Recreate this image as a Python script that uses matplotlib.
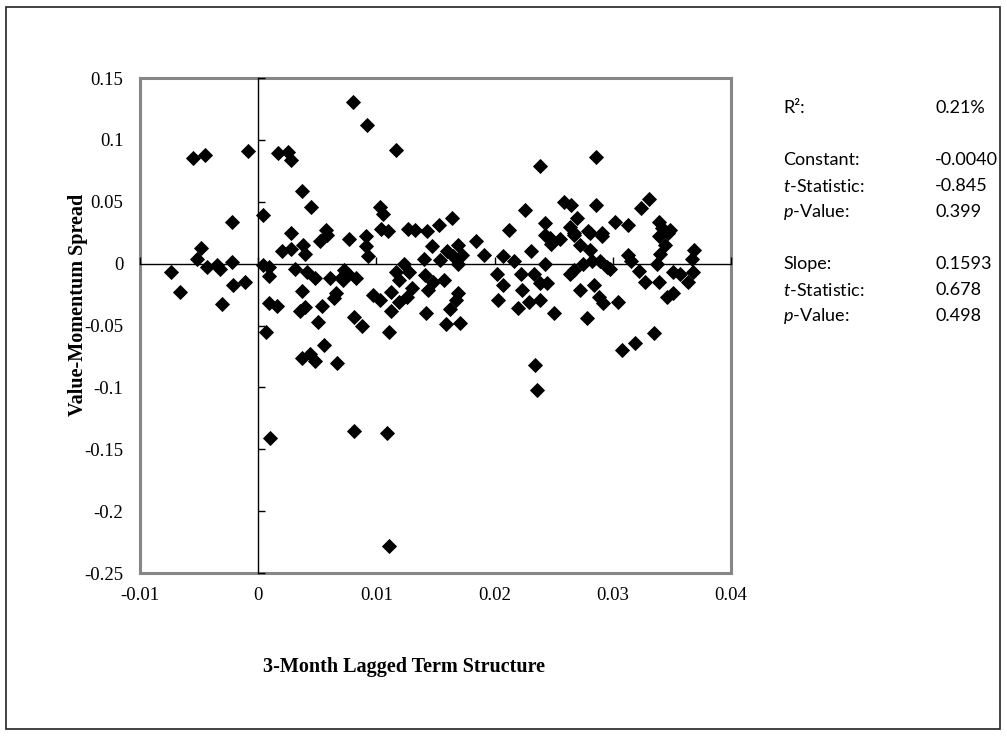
import matplotlib
matplotlib.use("Agg")
import matplotlib.pyplot as plt
from matplotlib.patches import Rectangle

# ---- data ----
term_structure = [
    -0.0055, -0.0045, -0.0009, 0.0017, 0.0025, 0.0028, 0.0037, 0.0045, -0.0022, 0.0004,
    0.0028, 0.0057, 0.0080, 0.0092, 0.0117, 0.0238, 0.0103, 0.0106, 0.0164, 0.0153,
    0.0226, 0.0243, 0.0212, 0.0104, 0.0110, 0.0127, 0.0133, 0.0143, 0.0077, 0.0091,
    0.0184, 0.0259, 0.0286, 0.0265, 0.0286, 0.0270, 0.0324, 0.0331, 0.0302, 0.0313,
    0.0339, 0.0342, 0.0348, 0.0264, 0.0267, 0.0281, 0.0291, 0.0247, 0.0255, -0.0048,
    -0.0052, -0.0043, -0.0035, -0.0032, -0.0022, -0.0074, -0.0066, -0.0031, -0.0021, -0.0011,
    0.0004, 0.0009, 0.0009, 0.0009, 0.0016, 0.0007, 0.0020, 0.0028, 0.0038, 0.0040,
    0.0052, 0.0058, 0.0031, 0.0041, 0.0048, 0.0061, 0.0071, 0.0075, 0.0037, 0.0054,
    0.0064, 0.0066, 0.0035, 0.0040, 0.0051, 0.0056, 0.0037, 0.0044, 0.0048, 0.0067,
    0.0081, 0.0091, 0.0093, 0.0147, 0.0169, 0.0160, 0.0154, 0.0165, 0.0172, 0.0169,
    0.0191, 0.0140, 0.0073, 0.0076, 0.0083, 0.0072, 0.0123, 0.0128, 0.0117, 0.0119,
    0.0141, 0.0148, 0.0157, 0.0144, 0.0097, 0.0103, 0.0112, 0.0119, 0.0126, 0.0130,
    0.0169, 0.0167, 0.0112, 0.0088, 0.0111, 0.0142, 0.0162, 0.0159, 0.0171, 0.0202,
    0.0207, 0.0203, 0.0207, 0.0216, 0.0231, 0.0243, 0.0222, 0.0233, 0.0223, 0.0238,
    0.0244, 0.0220, 0.0229, 0.0238, 0.0250, 0.0243, 0.0248, 0.0234, 0.0236, 0.0010,
    0.0081, 0.0109, 0.0111, 0.0267, 0.0272, 0.0281, 0.0291, 0.0279, 0.0267, 0.0275,
    0.0282, 0.0289, 0.0295, 0.0298, 0.0264, 0.0272, 0.0284, 0.0288, 0.0292, 0.0304,
    0.0278, 0.0313, 0.0315, 0.0322, 0.0327, 0.0337, 0.0339, 0.0340, 0.0344, 0.0347,
    0.0339, 0.0346, 0.0351, 0.0351, 0.0357, 0.0364, 0.0368, 0.0367, 0.0369, 0.0308,
    0.0319, 0.0335,
]
spread = [
    0.085, 0.088, 0.091, 0.089, 0.090, 0.084, 0.059, 0.046, 0.034, 0.039,
    0.025, 0.027, 0.131, 0.112, 0.092, 0.079, 0.046, 0.040, 0.037, 0.031,
    0.043, 0.033, 0.027, 0.028, 0.026, 0.028, 0.027, 0.026, 0.020, 0.022,
    0.018, 0.050, 0.086, 0.047, 0.047, 0.037, 0.045, 0.052, 0.034, 0.031,
    0.034, 0.029, 0.027, 0.030, 0.025, 0.025, 0.025, 0.021, 0.020, 0.013,
    0.004, -0.003, -0.001, -0.004, 0.001, -0.007, -0.023, -0.033, -0.017, -0.015,
    -0.001, -0.003, -0.010, -0.032, -0.034, -0.055, 0.010, 0.012, 0.015, 0.008,
    0.018, 0.023, -0.004, -0.007, -0.012, -0.012, -0.011, -0.008, -0.022, -0.034,
    -0.028, -0.024, -0.038, -0.035, -0.047, -0.066, -0.076, -0.073, -0.079, -0.080,
    -0.043, 0.014, 0.006, 0.014, 0.015, 0.010, 0.003, 0.006, 0.007, 0.000,
    0.007, 0.004, -0.005, -0.008, -0.012, -0.013, 0.000, -0.007, -0.007, -0.013,
    -0.009, -0.015, -0.013, -0.021, -0.025, -0.029, -0.023, -0.031, -0.027, -0.020,
    -0.024, -0.029, -0.038, -0.050, -0.055, -0.040, -0.037, -0.049, -0.048, -0.008,
    -0.017, -0.029, 0.006, 0.002, 0.010, 0.000, -0.008, -0.008, -0.021, -0.016,
    -0.016, -0.036, -0.031, -0.029, -0.040, 0.023, 0.016, -0.082, -0.102, -0.141,
    -0.135, -0.137, -0.228, 0.023, 0.015, 0.011, 0.022, 0.026, -0.005, 0.000,
    0.002, 0.002, -0.003, -0.004, -0.008, -0.021, -0.017, -0.027, -0.032, -0.031,
    -0.044, 0.007, 0.002, -0.006, -0.015, 0.000, 0.022, 0.008, 0.015, 0.025,
    -0.015, -0.027, -0.024, -0.007, -0.008, -0.015, -0.007, 0.004, 0.011, -0.070,
    -0.064, -0.056,
]
x_ticks = [-0.01, 0, 0.01, 0.02, 0.03, 0.04]
x_tick_labels = ["-0.01", "0", "0.01", "0.02", "0.03", "0.04"]
y_ticks = [-0.25, -0.2, -0.15, -0.1, -0.05, 0, 0.05, 0.1, 0.15]
y_tick_labels = ["-0.25", "-0.2", "-0.15", "-0.1", "-0.05", "0", "0.05", "0.1", "0.15"]
stat_labels = ["R²:", "Constant:", "$t$-Statistic:", "$p$-Value:", "Slope:", "$t$-Statistic:", "$p$-Value:"]
stat_values = ["0.21%", "-0.0040", "-0.845", "0.399", "0.1593", "0.678", "0.498"]
stat_rows = [0, 2, 3, 4, 6, 7, 8]

W, H = 1007, 736
fig = plt.figure(figsize=(W / 100, H / 100), dpi=100)
serif = "Liberation Serif"
sans = "Lato"
plt.rcParams["mathtext.fontset"] = "custom"
plt.rcParams["mathtext.it"] = "Lato:italic"
plt.rcParams["mathtext.rm"] = "Lato"

# outer chart-area border
fig.patches.append(Rectangle((6 / W, 1 - 729 / H), (1000 - 6) / W, (729 - 7) / H,
                             transform=fig.transFigure, fill=False,
                             edgecolor="#222222", linewidth=1.2))

left, right, top, bottom = 140, 731, 78, 573
pos = [left / W, 1 - bottom / H, (right - left) / W, (bottom - top) / H]
ax = fig.add_axes(pos)
ax.set_xlim(x_ticks[0], x_ticks[-1])
ax.set_ylim(y_ticks[0], y_ticks[-1])
for s in ax.spines.values():
    s.set_color("#868686")
    s.set_linewidth(2.2)
ax.set_xticks(x_ticks)
ax.set_xticklabels(x_tick_labels, fontfamily=serif, fontsize=13.5)
ax.set_yticks(y_ticks)
ax.set_yticklabels(y_tick_labels, fontfamily=serif, fontsize=13.5)
ax.tick_params(axis="y", length=0, pad=12)
ax.tick_params(axis="x", length=0, pad=10)

# crossing axes at zero
ax2 = fig.add_axes(pos, sharex=ax, sharey=ax)
ax2.patch.set_visible(False)
ax2.spines["left"].set_position(("data", 0))
ax2.spines["bottom"].set_position(("data", 0))
ax2.spines["top"].set_visible(False)
ax2.spines["right"].set_visible(False)
for k in ("left", "bottom"):
    ax2.spines[k].set_color("black")
    ax2.spines[k].set_linewidth(1.0)
ax2.tick_params(direction="in", length=5, width=1, labelleft=False, labelbottom=False)

ax2.plot(term_structure, spread, linestyle="none", marker="D", markersize=7.3,
         markeredgewidth=0.6, color="black", zorder=5, clip_on=False)

fig.text(404 / W, 1 - 667 / H, "3-Month Lagged Term Structure",
         ha="center", va="center", fontfamily=serif, fontweight="bold", fontsize=14.5)
fig.text(78 / W, 1 - 305 / H, "Value-Momentum Spread",
         ha="center", va="center", rotation=90, fontfamily=serif, fontweight="bold", fontsize=14.5)

y0 = 108
dy = 26
for lab, val, r in zip(stat_labels, stat_values, stat_rows):
    yy = 1 - (y0 + r * dy) / H
    fig.text(783 / W, yy, lab, ha="left", va="center", fontfamily=sans, fontsize=13)
    fig.text(935 / W, yy, val, ha="left", va="center", fontfamily=sans, fontsize=13)

fig.savefig("out.png", dpi=100)
